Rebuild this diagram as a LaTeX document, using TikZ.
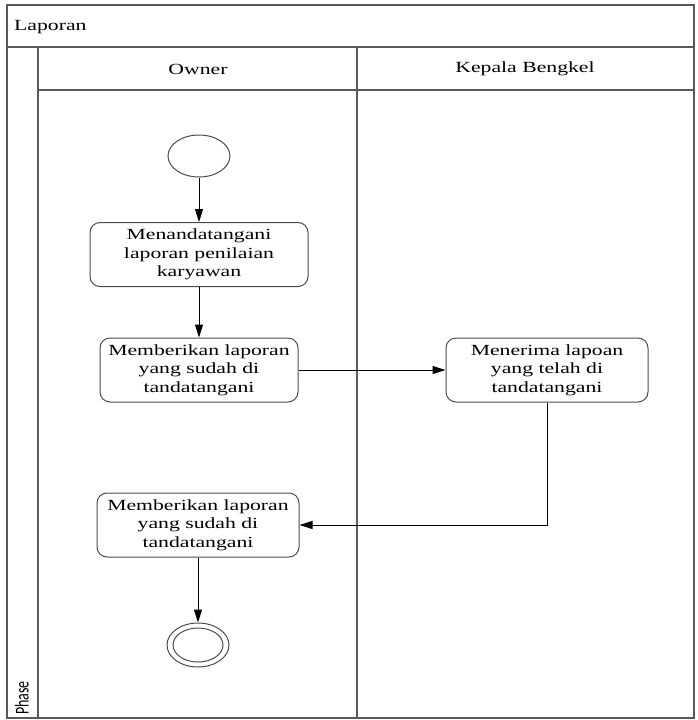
\documentclass[tikz,border=0pt]{standalone}
\usepackage{fontspec}
\setmainfont{Liberation Serif}[FakeStretch=1.4]
\newfontfamily\phasefont{Carlito}
\usetikzlibrary{arrows.meta,shapes.geometric}
\begin{document}
\begin{tikzpicture}[x=1pt,y=-1pt,
  frame/.style={draw=black!65, line width=1.2pt},
  act/.style={draw=black!70, line width=1pt, rounded corners=10pt, minimum width=202pt, minimum height=64pt, align=center, font=\fontsize{15.5}{18.5}\selectfont, inner sep=0pt},
  flow/.style={draw=black, line width=1pt, -{Triangle[length=13pt,width=8pt]}},
  lbl/.style={font=\fontsize{15.5}{18.5}\selectfont, inner sep=0pt},
  startnode/.style={draw=black!70, line width=1pt, ellipse, minimum width=62pt, minimum height=42pt, inner sep=0pt}]
\useasboundingbox (0,0) rectangle (697,720);
% frame and lanes
\draw[frame] (7,5) rectangle (694,718);
\draw[frame] (7,47) -- (694,47);
\draw[frame] (38,47) -- (38,718);
\draw[frame] (38,90) -- (694,90);
\draw[frame] (357,47) -- (357,718);
% labels
\node[lbl, anchor=west] (title) at (14,27) {Laporan};
\node[lbl] (owner) at (198,69) {Owner};
\node[lbl] (kepala) at (525,69) {Kepala Bengkel};
\node[rotate=90, anchor=west, font=\phasefont\fontsize{14}{16}\selectfont, inner sep=0pt] (phase) at (22,715) {\scalebox{1}[1.4]{Phase}};
% nodes
\node[startnode] (start) at (199,156) {};
\node[act, minimum width=218pt] (a1) at (199,254.5) {Menandatangani\\laporan penilaian\\karyawan};
\node[act, minimum width=198pt] (a2) at (199,370) {Memberikan laporan\\yang sudah di\\tandatangani};
\node[act] (a3) at (547,370) {Menerima lapoan\\yang telah di\\tandatangani};
\node[act] (a4) at (198,525) {Memberikan laporan\\yang sudah di\\tandatangani};
\node[startnode, minimum width=62pt, minimum height=44pt] (end) at (198,645) {};
\node[startnode, minimum width=50pt, minimum height=34pt] (endin) at (198,645) {};
% flows
\draw[flow] (start) -- (a1);
\draw[flow] (a1) -- (a2);
\draw[flow] (a2) -- (a3);
\draw[flow] (a3.south) |- (a4.east);
\draw[flow] (a4) -- (end);
\end{tikzpicture}
\end{document}
